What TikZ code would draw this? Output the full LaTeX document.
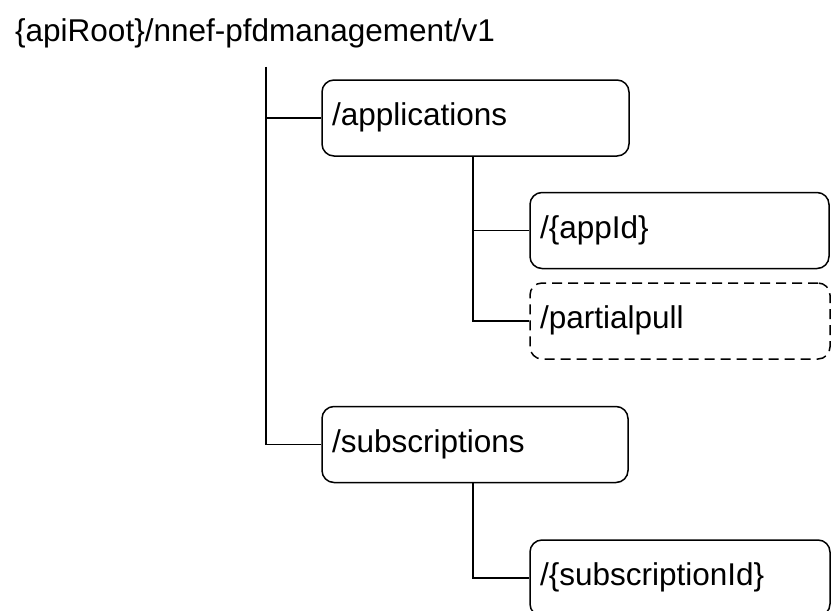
\documentclass[tikz,border=0pt]{standalone}
\usepackage{fontspec}
\setmainfont{Liberation Sans}
\usetikzlibrary{positioning}
\tikzset{
  resbox/.style={draw, line width=1.5pt, rounded corners=12pt, minimum height=76pt,
    inner xsep=10pt, text height=22pt, text depth=7pt, align=left},
  optbox/.style={resbox, dash pattern=on 10pt off 6pt},
  link/.style={line width=1.5pt}
}
\begin{document}
\begin{tikzpicture}[x=1pt, y=-1pt, font=\fontsize{31.5}{38}\selectfont]
  \useasboundingbox (0,0) rectangle (832,610);
  \node (title) at (15,42) [anchor=base west, inner sep=0pt] {\{apiRoot\}/nnef-pfdmanagement/v1};
  \coordinate (root) at (266,67);

  \node (apps) at (475.5,118) [resbox, text width=287pt] {/applications};
  \node (appid) at (679.5,230.5) [resbox, text width=279pt] {/\{appId\}};
  \node (pull) at (680,321) [optbox, text width=280pt] {/partialpull};
  \node (subs) at (475,444.5) [resbox, text width=286pt] {/subscriptions};
  \node (subid) at (680,578) [resbox, text width=280pt] {/\{subscriptionId\}};

  \draw[link] (root) |- (apps.west);
  \draw[link] (root) |- (subs.west);
  \draw[link] ([xshift=-2.5pt]apps.south) |- (appid.west);
  \draw[link] ([xshift=-2.5pt]apps.south) |- (pull.west);
  \draw[link] ([xshift=-2pt]subs.south) |- (subid.west);
\end{tikzpicture}
\end{document}
